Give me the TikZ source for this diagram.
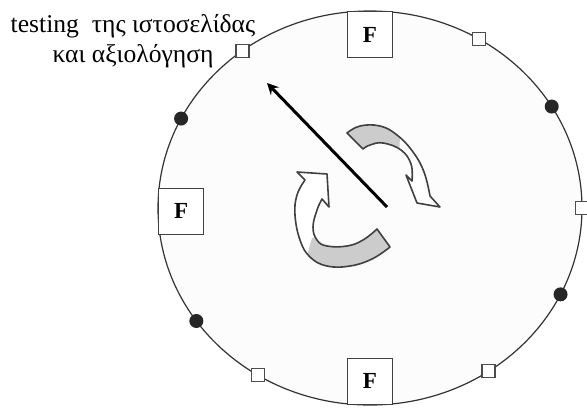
\documentclass[tikz,border=0pt]{standalone}
\usepackage{fontspec}
\setmainfont{Liberation Serif}
\usetikzlibrary{calc}

\begin{document}
\begin{tikzpicture}[x=0.5pt, y=-0.5pt,
  fbox/.style={rectangle, draw=black!75, fill=white, line width=0.6pt,
               minimum width=22.5pt, minimum height=23pt, inner sep=0pt,
               font=\fontsize{11.5}{12}\selectfont\bfseries},
  port/.style={rectangle, draw=black!70, fill=white, line width=0.6pt,
               minimum size=6.5pt, inner sep=0pt},
  joint/.style={circle, fill=black!85, minimum size=7pt, inner sep=0pt},
  ribbon/.style={draw=black!75, fill=white, line width=0.8pt, line join=round},
  arrow/.style={->, >=stealth, line width=1.5pt}
]
\useasboundingbox (0,0) rectangle (587,408);

%% Ring
\coordinate (rim) at (370,208);
\draw[black!80, fill=black!1, line width=0.6pt] (rim) ellipse [x radius=212, y radius=197];

%% F boxes on the ring
\node[fbox, anchor=north] (ftop)   at ($(rim)+(-90:212 and 197)$) {F};
\node[fbox, anchor=west]  (fleft)  at ($(rim)+(179:212 and 197)$) {F};
\node[fbox, anchor=south] (fbottom) at ($(rim)+(90:212 and 197)$) {F};

%% Small squares
\node[port] (p1) at ($(rim)+(-127:212 and 197)$) {};
\node[port] (p2) at ($(rim)+(-59:212 and 197)$) {};
\node[port] (p3) at ($(rim)+(0:212 and 197)$) {};
\node[port] (p4) at ($(rim)+(56:212 and 197)$) {};
\node[port] (p5) at ($(rim)+(122:212 and 197)$) {};

%% Dots
\node[joint] (d1) at ($(rim)+(-153:212 and 197)$) {};
\node[joint] (d2) at ($(rim)+(-31:212 and 197)$) {};
\node[joint] (d3) at ($(rim)+(26:212 and 197)$) {};
\node[joint] (d4) at ($(rim)+(145:212 and 197)$) {};

%% Label
\node[font=\fontsize{12.8}{15}\selectfont, align=center] (task) at (133,41)
  {testing\ \ της ιστοσελίδας\\και αξιολόγηση};

%% Turning ribbons
\draw[ribbon, path picture={\fill[black!20] (312,238) -- (372,226) -- (400,226)
      -- (400,280) -- (300,280) -- cycle;}]
  (377,229) -- (390,247)
  -- plot[smooth, tension=0.7] coordinates {(390,247) (372,259) (350,266) (327,266)
       (310,257) (300,240) (295,215) (297,195) (305,180)}
  -- (297,172) -- (327,174) -- (329,207) -- (322,199)
  -- plot[smooth, tension=0.7] coordinates {(322,199) (317,210) (313,227) (317,240)
       (327,246) (347,246) (363,240) (377,229)}
  -- cycle;

\draw[ribbon, path picture={\fill[black!20] (330,110) -- (401,110) -- (399,160)
      -- (330,160) -- cycle;}]
  (347,133)
  -- plot[smooth, tension=0.7] coordinates {(347,133) (360,126) (380,126) (397,135)
       (413,152) (424,172) (430,196)}
  -- (440,207) -- (417,203) -- (406,175) -- (412,181)
  -- plot[smooth, tension=0.7] coordinates {(412,181) (411,164) (401,150) (383,143)
       (370,145) (363,149)}
  -- cycle;

%% Pointer
\coordinate (hub) at (387,207);
\coordinate (goal) at (267,83);
\draw[arrow] (hub) -- (goal);
\end{tikzpicture}
\end{document}
